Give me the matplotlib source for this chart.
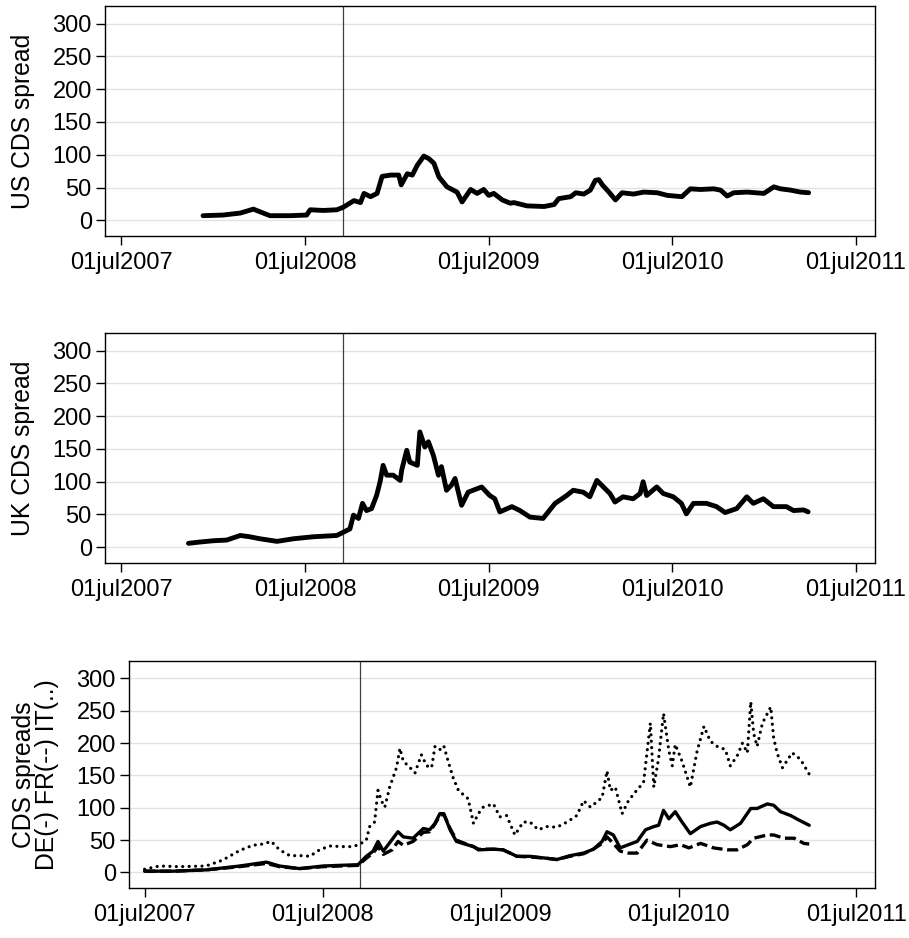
import numpy as np
import matplotlib
matplotlib.use('Agg')
import matplotlib.pyplot as plt

plt.rcParams['font.family'] = ['Liberation Sans', 'DejaVu Sans']

# 美国 CDS 利差
us_dates = ['2007-12-11', '2008-01-20', '2008-02-23', '2008-03-20', '2008-04-02', '2008-04-22',
            '2008-06-01', '2008-07-04', '2008-07-11', '2008-08-06', '2008-09-02', '2008-09-15',
            '2008-10-06', '2008-10-19', '2008-10-26', '2008-11-08', '2008-11-21', '2008-12-01',
            '2008-12-18', '2009-01-03', '2009-01-08', '2009-01-20', '2009-01-30', '2009-02-09',
            '2009-02-22', '2009-03-04', '2009-03-14', '2009-03-24', '2009-04-09', '2009-04-29',
            '2009-05-09', '2009-05-26', '2009-06-08', '2009-06-21', '2009-07-01', '2009-07-11',
            '2009-07-28', '2009-08-13', '2009-08-20', '2009-09-15', '2009-10-19', '2009-11-08',
            '2009-11-17', '2009-12-11', '2009-12-21', '2010-01-06', '2010-01-19', '2010-01-29',
            '2010-02-05', '2010-02-12', '2010-02-25', '2010-03-10', '2010-03-23', '2010-04-15',
            '2010-05-05', '2010-06-01', '2010-06-21', '2010-07-20', '2010-08-06', '2010-08-26',
            '2010-09-21', '2010-10-05', '2010-10-18', '2010-10-31', '2010-11-27', '2010-12-30',
            '2011-01-19', '2011-02-01', '2011-02-21', '2011-03-13', '2011-03-29']
us_vals = [7, 8, 11, 17, 13, 7, 7, 8, 16, 15, 16, 20, 30, 27, 41, 36, 41, 67, 69, 69,
           54, 71, 69, 84, 98, 94, 87, 66, 51, 43, 28, 47, 41, 47, 38, 41, 31, 26, 27, 22,
           21, 24, 33, 36, 42, 40, 46, 61, 62, 54, 43, 31, 42, 40, 43, 42, 38, 36, 48, 47,
           48, 46, 37, 42, 43, 41, 51, 48, 46, 43, 42]

# 英国 CDS 利差
uk_dates = ['2007-11-12', '2007-12-05', '2008-01-01', '2008-01-27', '2008-02-23', '2008-03-13',
            '2008-04-02', '2008-05-06', '2008-06-08', '2008-07-17', '2008-09-02', '2008-09-15',
            '2008-09-28', '2008-10-05', '2008-10-15', '2008-10-23', '2008-10-31', '2008-11-10',
            '2008-11-20', '2008-11-27', '2008-12-03', '2008-12-10', '2008-12-23', '2009-01-06',
            '2009-01-09', '2009-01-19', '2009-01-25', '2009-02-09', '2009-02-14', '2009-02-24',
            '2009-03-03', '2009-03-13', '2009-03-23', '2009-03-29', '2009-04-08', '2009-04-18',
            '2009-04-25', '2009-05-08', '2009-05-21', '2009-05-31', '2009-06-17', '2009-07-03',
            '2009-07-13', '2009-07-23', '2009-08-16', '2009-09-01', '2009-09-21', '2009-10-17',
            '2009-11-10', '2009-12-03', '2009-12-16', '2010-01-05', '2010-01-18', '2010-02-01',
            '2010-02-14', '2010-02-27', '2010-03-09', '2010-03-25', '2010-04-14', '2010-04-28',
            '2010-05-04', '2010-05-11', '2010-05-31', '2010-06-13', '2010-07-03', '2010-07-19',
            '2010-07-29', '2010-08-12', '2010-09-07', '2010-09-27', '2010-10-14', '2010-11-06',
            '2010-11-26', '2010-12-09', '2010-12-29', '2011-01-18', '2011-02-13', '2011-02-27',
            '2011-03-19', '2011-03-28']
uk_vals = [6, 8, 10, 11, 18, 16, 13, 9, 13, 16, 18, 23, 28, 49, 44, 67, 56, 59, 79, 100,
           125, 110, 110, 102, 118, 148, 130, 125, 176, 153, 161, 140, 110, 123, 87, 95, 105, 64, 84, 87,
           92, 79, 74, 54, 62, 56, 46, 44, 67, 79, 87, 84, 77, 102, 92, 82, 69, 77, 74, 82,
           100, 79, 92, 82, 77, 67, 51, 67, 67, 62, 53, 59, 77, 67, 74, 62, 62, 56, 57, 54]

# 德国 (实线)
de_dates = ['2007-07-01', '2007-08-28', '2007-11-04', '2008-01-12', '2008-03-07', '2008-04-03',
            '2008-05-14', '2008-07-01', '2008-08-04', '2008-09-11', '2008-09-28', '2008-10-12',
            '2008-10-22', '2008-11-02', '2008-12-02', '2008-12-13', '2009-01-02', '2009-01-23',
            '2009-02-05', '2009-02-16', '2009-02-26', '2009-03-06', '2009-03-19', '2009-04-01',
            '2009-04-18', '2009-05-06', '2009-05-16', '2009-06-16', '2009-07-06', '2009-08-03',
            '2009-08-30', '2009-10-03', '2009-10-24', '2009-11-20', '2009-12-18', '2010-01-07',
            '2010-01-25', '2010-02-04', '2010-02-17', '2010-03-03', '2010-03-20', '2010-04-07',
            '2010-04-24', '2010-05-11', '2010-05-21', '2010-05-31', '2010-06-11', '2010-06-24',
            '2010-07-08', '2010-07-25', '2010-08-15', '2010-09-04', '2010-09-18', '2010-10-02',
            '2010-10-15', '2010-11-05', '2010-11-26', '2010-12-09', '2010-12-30', '2011-01-12',
            '2011-01-26', '2011-02-16', '2011-03-05', '2011-03-26']
de_vals = [2, 2, 4, 10, 16, 10, 6, 10, 11, 12, 25, 33, 48, 33, 63, 55, 53, 68, 66, 76,
           91, 91, 66, 48, 44, 40, 35, 36, 35, 25, 25, 22, 20, 26, 30, 36, 48, 63, 58, 38,
           43, 48, 66, 71, 73, 96, 83, 94, 78, 60, 71, 76, 78, 73, 66, 76, 99, 99, 106, 104,
           94, 88, 81, 73]

# 法国 (虚线)
fr_dates = ['2007-07-01', '2007-08-28', '2007-11-04', '2008-01-12', '2008-03-07', '2008-04-03',
            '2008-05-14', '2008-07-01', '2008-08-04', '2008-09-11', '2008-09-28', '2008-10-12',
            '2008-10-22', '2008-11-02', '2008-11-20', '2008-12-02', '2008-12-13', '2009-01-02',
            '2009-01-23', '2009-02-05', '2009-02-16', '2009-02-26', '2009-03-06', '2009-03-19',
            '2009-04-01', '2009-04-18', '2009-05-06', '2009-05-16', '2009-06-16', '2009-07-06',
            '2009-08-03', '2009-08-30', '2009-10-03', '2009-10-24', '2009-11-20', '2009-12-18',
            '2010-01-07', '2010-01-25', '2010-02-04', '2010-02-17', '2010-03-03', '2010-03-20',
            '2010-04-07', '2010-04-27', '2010-05-18', '2010-06-14', '2010-07-05', '2010-07-22',
            '2010-08-15', '2010-09-11', '2010-10-09', '2010-10-29', '2010-11-19', '2010-12-02',
            '2010-12-30', '2011-01-12', '2011-02-02', '2011-02-23', '2011-03-15', '2011-03-26']
fr_vals = [2, 2, 4, 9, 14, 9, 6, 9, 10, 11, 22, 30, 40, 28, 35, 48, 42, 48, 62, 63,
           75, 88, 90, 68, 50, 45, 40, 36, 36, 35, 25, 24, 22, 20, 25, 29, 36, 45, 55, 45,
           33, 30, 30, 50, 43, 40, 43, 38, 45, 38, 35, 35, 43, 53, 58, 58, 53, 53, 45, 44]

# 意大利 (点线)
it_dates = ['2007-07-01', '2007-07-31', '2007-09-10', '2007-11-04', '2007-12-08', '2008-01-12',
            '2008-02-08', '2008-02-29', '2008-03-17', '2008-04-03', '2008-04-24', '2008-05-21',
            '2008-06-04', '2008-06-24', '2008-07-15', '2008-08-11', '2008-09-01', '2008-09-15',
            '2008-09-28', '2008-10-05', '2008-10-15', '2008-10-22', '2008-10-29', '2008-11-05',
            '2008-11-15', '2008-11-29', '2008-12-06', '2008-12-13', '2008-12-23', '2009-01-06',
            '2009-01-19', '2009-01-30', '2009-02-09', '2009-02-16', '2009-02-26', '2009-03-06',
            '2009-03-15', '2009-03-25', '2009-04-05', '2009-04-25', '2009-05-06', '2009-05-16',
            '2009-05-26', '2009-06-16', '2009-06-29', '2009-07-13', '2009-07-30', '2009-08-16',
            '2009-08-30', '2009-09-16', '2009-10-03', '2009-10-24', '2009-11-14', '2009-12-04',
            '2009-12-18', '2010-01-01', '2010-01-25', '2010-02-04', '2010-02-11', '2010-02-21',
            '2010-03-07', '2010-03-20', '2010-04-07', '2010-04-20', '2010-05-04', '2010-05-11',
            '2010-05-21', '2010-05-31', '2010-06-11', '2010-06-18', '2010-06-24', '2010-07-08',
            '2010-07-25', '2010-08-08', '2010-08-22', '2010-09-04', '2010-09-18', '2010-10-05',
            '2010-10-15', '2010-10-29', '2010-11-09', '2010-11-19', '2010-11-26', '2010-12-02',
            '2010-12-09', '2010-12-20', '2011-01-06', '2011-01-12', '2011-01-19', '2011-01-30',
            '2011-02-19', '2011-03-08', '2011-03-26']
it_vals = [5, 10, 9, 10, 19, 34, 42, 44, 48, 35, 26, 26, 25, 35, 41, 40, 40, 44, 50, 71,
           78, 127, 111, 101, 132, 162, 192, 172, 165, 154, 182, 165, 162, 195, 190, 196, 172, 147, 127, 114,
           76, 91, 101, 106, 86, 88, 58, 78, 78, 66, 71, 70, 78, 88, 111, 101, 116, 157, 127, 132,
           91, 111, 128, 139, 231, 132, 177, 246, 188, 165, 198, 172, 132, 188, 226, 203, 195, 190, 165, 180,
           200, 185, 264, 215, 195, 231, 256, 208, 185, 162, 185, 175, 152]

tick_dates = ['2007-07-01', '2008-07-01', '2009-07-01', '2010-07-01', '2011-07-01']
tick_labels = ['01jul2007', '01jul2008', '01jul2009', '01jul2010', '01jul2011']
lehman = '2008-09-15'

d = lambda s: np.array(s, dtype='datetime64[D]')

fig = plt.figure(figsize=(9.09, 9.38), dpi=100)
ax1 = fig.add_axes([0.1155, 0.7484, 0.8471, 0.2452])
ax2 = fig.add_axes([0.1155, 0.3998, 0.8471, 0.2452])
ax3 = fig.add_axes([0.1419, 0.0533, 0.8207, 0.2420])

line_kw = dict(color='black', solid_capstyle='round', solid_joinstyle='round')
ax1.plot(d(us_dates), us_vals, lw=3.5, **line_kw)
ax2.plot(d(uk_dates), uk_vals, lw=3.5, **line_kw)
ax3.plot(d(de_dates), de_vals, lw=2.4, **line_kw)
ax3.plot(d(fr_dates), fr_vals, lw=2.4, color='black', ls=(0, (3.3, 1.4)), dash_capstyle='butt')
ax3.plot(d(it_dates), it_vals, lw=2.3, color='black', ls=(0, (0.01, 2.0)), dash_capstyle='round')

ylabels = ['US CDS spread', 'UK CDS spread', 'CDS spreads\nDE(-) FR(--) IT(..)']
label_x = [-0.107, -0.107, -0.125]
for ax, lab, lx in zip([ax1, ax2, ax3], ylabels, label_x):
    ax.axvline(d(lehman), color='#404040', lw=0.9, zorder=1)
    ax.set_ylim(-24, 327)
    ax.set_xlim(d('2007-05-30'), d('2011-08-08'))
    ax.set_yticks(np.arange(0, 301, 50))
    ax.set_xticks(d(tick_dates))
    ax.set_xticklabels(tick_labels)
    ax.grid(True, axis='y', color='#e2e2e2', lw=1.0, zorder=0)
    ax.set_axisbelow(True)
    ax.tick_params(axis='both', direction='out', length=6.5, width=1.0, labelsize=17,
                   color='black', labelcolor='black')
    ax.tick_params(axis='x', pad=5)
    ax.tick_params(axis='y', pad=3)
    for sp in ax.spines.values():
        sp.set_linewidth(1.0)
        sp.set_color('black')
    ax.set_ylabel(lab, fontsize=17.8, va='center', ha='center', linespacing=0.95)
    ax.yaxis.set_label_coords(lx, 0.5)

fig.savefig('out.png', dpi=100)
